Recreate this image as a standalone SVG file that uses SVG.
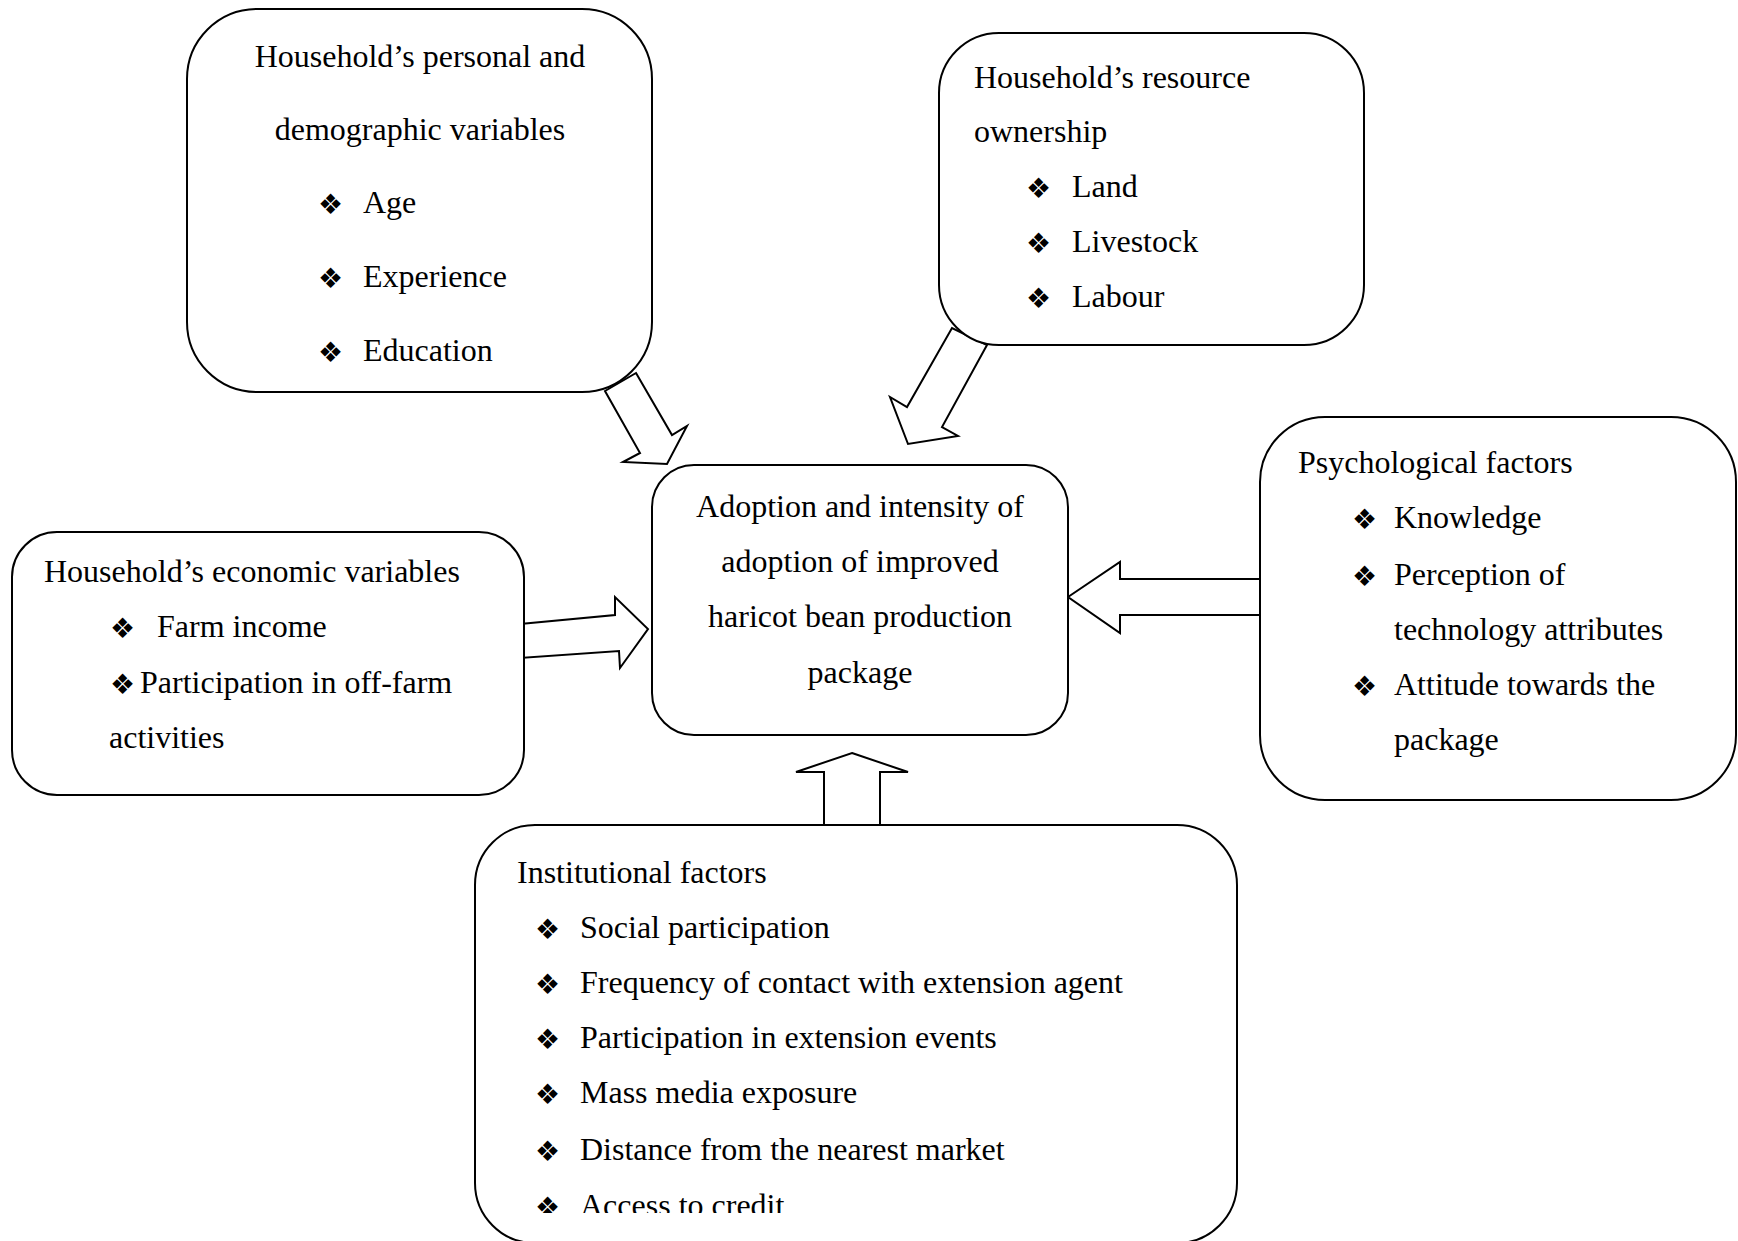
<svg xmlns="http://www.w3.org/2000/svg" width="1738" height="1241" viewBox="0 0 1738 1241">
<defs>
<style>
.box{fill:#fff;stroke:#000;stroke-width:2}
.arr{fill:#fff;stroke:#000;stroke-width:2;stroke-linejoin:miter}
.t{font-family:"Liberation Serif","Times New Roman",serif;font-size:32px;fill:#000}
.c{text-anchor:middle}
.b{font-family:"DejaVu Sans",sans-serif;font-size:28px;fill:#000}
</style>
<clipPath id="clipInst"><rect x="0" y="0" width="1738" height="1213"/></clipPath>
</defs>
<rect width="1738" height="1241" fill="#fff"/>
<g id="connectors">
<polygon class="arr" points="636,373 672,435 687,426 667,464 623,462 640,453 605,391"/>
<polygon class="arr" points="987,345 942,427 958,436 908,444 890,397 907,407 952,328"/>
<polygon class="arr" points="520,624 615,615 615,597 648,629 620,668 619,651 520,658"/>
<polygon class="arr" points="1068,597 1120,562 1120,579 1263,579 1263,615 1120,615 1120,633"/>
<polygon class="arr" points="852,753 908,772 880,772 880,829 824,829 824,772 796,772"/>
</g>
<g id="personal">
<rect class="box" x="187" y="9" width="465" height="383" rx="70" ry="70"/>
<text class="t c" x="420" y="67">Household’s personal and</text>
<text class="t c" x="420" y="140">demographic variables</text>
<text class="b" x="318" y="214">❖</text><text class="t" x="363" y="213">Age</text>
<text class="b" x="318" y="288">❖</text><text class="t" x="363" y="287">Experience</text>
<text class="b" x="318" y="362">❖</text><text class="t" x="363" y="361">Education</text>
</g>
<g id="resource">
<rect class="box" x="939" y="33" width="425" height="312" rx="60" ry="60"/>
<text class="t" x="974" y="88">Household’s resource</text>
<text class="t" x="974" y="142">ownership</text>
<text class="b" x="1026" y="198">❖</text><text class="t" x="1072" y="197">Land</text>
<text class="b" x="1026" y="253">❖</text><text class="t" x="1072" y="252">Livestock</text>
<text class="b" x="1026" y="308">❖</text><text class="t" x="1072" y="307">Labour</text>
</g>
<g id="adoption">
<rect class="box" x="652" y="465" width="416" height="270" rx="42" ry="42"/>
<text class="t c" x="860" y="517">Adoption and intensity of</text>
<text class="t c" x="860" y="572">adoption of improved</text>
<text class="t c" x="860" y="627">haricot bean production</text>
<text class="t c" x="860" y="683">package</text>
</g>
<g id="economic">
<rect class="box" x="12" y="532" width="512" height="263" rx="45" ry="45"/>
<text class="t" x="44" y="582">Household’s economic variables</text>
<text class="b" x="110" y="638">❖</text><text class="t" x="157" y="637">Farm income</text>
<text class="b" x="110" y="694">❖</text><text class="t" x="140" y="693">Participation in off-farm</text>
<text class="t" x="109" y="748">activities</text>
</g>
<g id="psychological">
<rect class="box" x="1260" y="417" width="476" height="383" rx="65" ry="65"/>
<text class="t" x="1298" y="473">Psychological factors</text>
<text class="b" x="1352" y="529">❖</text><text class="t" x="1394" y="528">Knowledge</text>
<text class="b" x="1352" y="586">❖</text><text class="t" x="1394" y="585">Perception of</text>
<text class="t" x="1394" y="640">technology attributes</text>
<text class="b" x="1352" y="696">❖</text><text class="t" x="1394" y="695">Attitude towards the</text>
<text class="t" x="1394" y="750">package</text>
</g>
<g id="institutional">
<rect class="box" x="475" y="825" width="762" height="418" rx="60" ry="60"/>
<text class="t" x="517" y="883">Institutional factors</text>
<text class="b" x="535" y="939">❖</text><text class="t" x="580" y="938">Social participation</text>
<text class="b" x="535" y="994">❖</text><text class="t" x="580" y="993">Frequency of contact with extension agent</text>
<text class="b" x="535" y="1049">❖</text><text class="t" x="580" y="1048">Participation in extension events</text>
<text class="b" x="535" y="1104">❖</text><text class="t" x="580" y="1103">Mass media exposure</text>
<text class="b" x="535" y="1161">❖</text><text class="t" x="580" y="1160">Distance from the nearest market</text>
<g clip-path="url(#clipInst)">
<text class="b" x="535" y="1217">❖</text><text class="t" x="580" y="1216">Access to credit</text>
</g>
</g>
</svg>
